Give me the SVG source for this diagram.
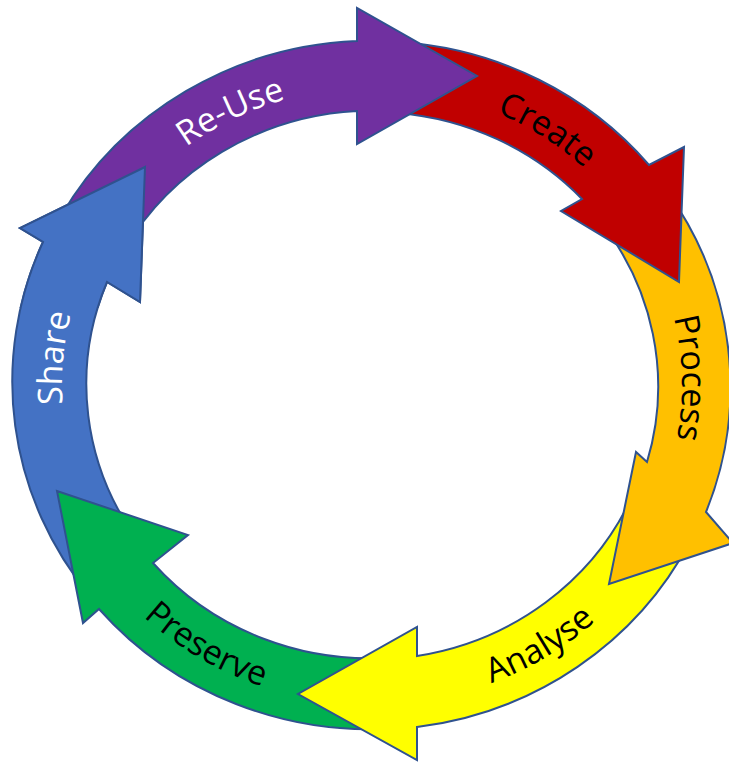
<svg xmlns="http://www.w3.org/2000/svg" xmlns:xlink="http://www.w3.org/1999/xlink" width="729" height="763" viewBox="0 0 729 763">
<style>
.arr{stroke:#2F528F;stroke-width:2;stroke-linejoin:miter}
.lbl{font-family:"Open Sans","Noto Sans","Liberation Sans",sans-serif;font-size:34px}
.dark{fill:#000000}
.light{fill:#FFFFFF}
</style>
<defs>
<path id="tp-reuse" d="M 112.9 221.7 A 310 297.5 0 0 1 389.9 88.0"/>
<path id="tp-create" d="M 365.5 87.6 A 310 297.5 0 0 1 661.0 277.4"/>
<path id="tp-process" d="M 621.8 208.9 A 310 297.5 0 0 1 629.9 550.1"/>
<path id="tp-analyse" d="M 354.6 704.1 A 332 319.5 0 0 0 677.6 509.8"/>
<path id="tp-preserve" d="M 67.1 511.4 A 332 319.5 0 0 0 391.1 704.0"/>
<path id="tp-share" d="M 103.5 533.8 A 310 297.5 0 0 1 134.5 193.8"/>
<clipPath id="clip-share-head"><rect x="0" y="140" width="200" height="168"/></clipPath>
</defs>
<rect x="0" y="0" width="729" height="763" fill="#FFFFFF"/>
<g id="connectors"/>
<g id="share">
<path id="shape-share" class="arr" fill="#4472C4" d="M 90.7 596.8 A 357 344 0 0 1 43 242 L 20 228 L 145 167 L 140 302 L 107 282 A 285 273 0 0 0 138.6 541.6 Z"/>
<text class="lbl light"><textPath xlink:href="#tp-share" href="#tp-share" startOffset="50%" text-anchor="middle">Share</textPath></text>
</g>
<g id="preserve">
<path class="arr" fill="#00B050" d="M 403.1 727.7 A 357 344 0 0 1 99 609 L 83 623 L 57 491 L 188 535 L 153 563 A 285 273 0 0 0 396.8 657 Z"/>
<text class="lbl dark"><textPath xlink:href="#tp-preserve" href="#tp-preserve" startOffset="50%" text-anchor="middle">Preserve</textPath></text>
</g>
<g id="analyse">
<path class="arr" fill="#FFFF00" d="M 690.1 541.2 A 357 344 0 0 1 417 727 L 417 760 L 298 694 L 417 627 L 417 656 A 285 273 0 0 0 632.3 496 Z"/>
<text class="lbl dark"><textPath xlink:href="#tp-analyse" href="#tp-analyse" startOffset="50%" text-anchor="middle">Analyse</textPath></text>
</g>
<g id="process">
<path class="arr" fill="#FFC000" d="M 668 192.6 A 357 344 0 0 1 706 512 L 733 543 L 609 584 L 636 452 L 647 462 A 285 273 0 0 0 596.6 216.9 Z"/>
<text class="lbl dark"><textPath xlink:href="#tp-process" href="#tp-process" startOffset="50%" text-anchor="middle">Process</textPath></text>
</g>
<g id="create">
<path class="arr" fill="#C00000" d="M 403.1 42.3 A 357 344 0 0 1 649 165 L 684 147 L 679 282 L 561 211 L 582 199 A 285 273 0 0 0 396.8 113 Z"/>
<text class="lbl dark"><textPath xlink:href="#tp-create" href="#tp-create" startOffset="50%" text-anchor="middle">Create</textPath></text>
</g>
<g id="reuse">
<path class="arr" fill="#7030A0" d="M 61.6 215.1 A 357 344 0 0 1 357 41 L 357 8 L 477 76 L 357 144 L 357 111 A 285 273 0 0 0 124.2 250.1 Z"/>
<text class="lbl light"><textPath xlink:href="#tp-reuse" href="#tp-reuse" startOffset="50%" text-anchor="middle">Re-Use</textPath></text>
</g>
<g id="share-head-overlay">
<use xlink:href="#shape-share" href="#shape-share" clip-path="url(#clip-share-head)"/>
</g>
</svg>
